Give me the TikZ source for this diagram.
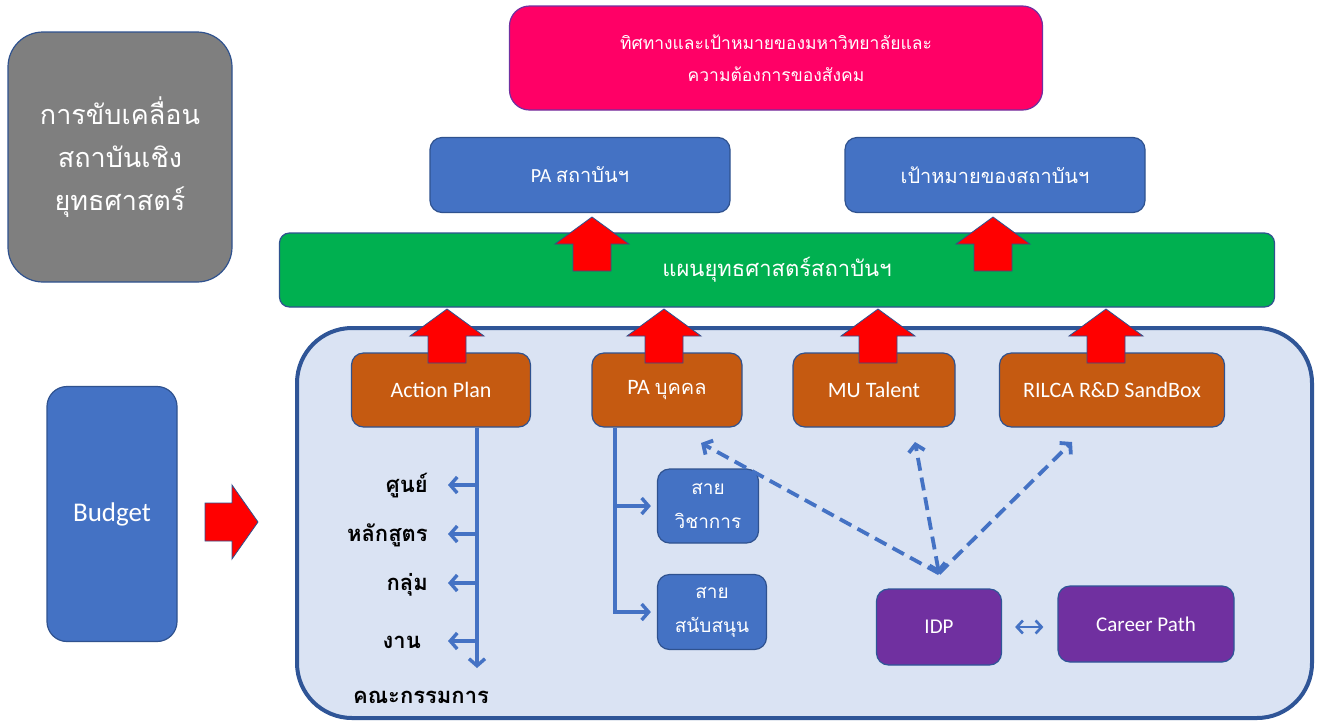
\documentclass[tikz,border=0pt]{standalone}
\usepackage{fontspec}
\setmainfont{Carlito}
\newfontfamily\thai[Script=Thai]{Loma}
\usetikzlibrary{arrows.meta,calc}

\definecolor{edgeblue}{HTML}{2F528F}
\definecolor{boxblue}{HTML}{4472C4}
\definecolor{hotpink}{HTML}{FF0066}
\definecolor{grassgreen}{HTML}{00B050}
\definecolor{rust}{HTML}{C55A11}
\definecolor{paleblue}{HTML}{DAE3F3}
\definecolor{plum}{HTML}{7030A0}
\definecolor{greybox}{HTML}{7F7F7F}
\definecolor{frameblue}{HTML}{2F5597}

\begin{document}
\begin{tikzpicture}[x=1pt,y=-1pt,
    card/.style={draw=edgeblue,line width=1.2pt,rounded corners=12pt,text=white,align=center,inner sep=1pt},
    lbl/.style={font=\thai\bfseries\fontsize{22}{26}\selectfont,inner xsep=20pt,inner ysep=0pt},
    link/.style={draw=boxblue,line width=3.4pt,-{Straight Barb[length=7pt,width=16pt]}},
    dlink/.style={link,line width=3.8pt,dash pattern=on 13pt off 7pt},
    push/.style={fill=red,draw=edgeblue,line width=0.8pt}]
    \useasboundingbox[fill=white] (0,0) rectangle (1317,721);

    % big frame
    \draw[fill=paleblue,draw=frameblue,line width=4pt,rounded corners=55pt] (297,328) rectangle (1312,718);

    % left column
    \node[card,fill=greybox,minimum width=224pt,minimum height=250pt,rounded corners=35pt,
        font=\thai\fontsize{27}{43}\selectfont] (drive) at (120,157) {การขับเคลื่อน\\สถาบันเชิง\\ยุทธศาสตร์};
    \node[card,fill=boxblue,minimum width=130pt,minimum height=255pt,rounded corners=20pt,
        font=\fontsize{27}{30}\selectfont] (budget) at (112,514) {Budget};

    % top rows
    \node[card,fill=hotpink,draw=plum,minimum width=533pt,minimum height=104pt,rounded corners=20pt,
        font=\thai\fontsize{17.5}{32}\selectfont] (uni) at (776,58) {ทิศทางและเป้าหมายของมหาวิทยาลัยและ\\ความต้องการของสังคม};
    \node[card,fill=boxblue,minimum width=300pt,minimum height=75pt,font=\fontsize{20}{24}\selectfont] (pa) at (580,175) {PA {\thai สถาบันฯ}};
    \node[card,fill=boxblue,minimum width=300pt,minimum height=75pt,font=\thai\fontsize{20}{24}\selectfont] (goal) at (995,175) {เป้าหมายของสถาบันฯ};
    \node[card,fill=grassgreen,minimum width=995pt,minimum height=74pt,rounded corners=10pt,
        font=\thai\fontsize{22}{26}\selectfont] (plan) at (777,270) {แผนยุทธศาสตร์สถาบันฯ};

    % boxes inside the frame
    \node[card,fill=rust,minimum width=179pt,minimum height=74pt,font=\fontsize{22}{26}\selectfont] (action) at (441,390) {Action Plan};
    \node[card,fill=rust,minimum width=150pt,minimum height=74pt,font=\fontsize{22}{26}\selectfont] (pab) at (667,390) {PA {\thai\fontsize{20}{24}\selectfont บุคคล}};
    \node[card,fill=rust,minimum width=162pt,minimum height=74pt,font=\fontsize{22}{26}\selectfont] (talent) at (874,390) {MU Talent};
    \node[card,fill=rust,minimum width=225pt,minimum height=74pt,font=\fontsize{22}{26}\selectfont] (rilca) at (1112,390) {RILCA R\&D SandBox};

    \node[card,fill=boxblue,minimum width=101pt,minimum height=74pt,font=\thai\fontsize{19}{34}\selectfont] (sai1) at (708,506) {สาย\\วิชาการ};
    \node[card,fill=boxblue,minimum width=109pt,minimum height=75pt,font=\thai\fontsize{19}{34}\selectfont] (sai2) at (712,612) {สาย\\สนับสนุน};
    \node[card,fill=plum,draw=frameblue,minimum width=125pt,minimum height=76pt,font=\fontsize{21}{24}\selectfont] (idp) at (939,627) {IDP};
    \node[card,fill=plum,draw=frameblue,minimum width=176pt,minimum height=76pt,font=\fontsize{21}{24}\selectfont] (career) at (1146,624) {Career Path};

    % red block arrows
    \foreach \x/\y in {592/217, 993/217, 447/309, 664/309, 878/309, 1106/309}
        \draw[push] (\x,\y) -- ++(37,27) -- ++(-18,0) -- ++(0,27) -- ++(-38,0) -- ++(0,-27) -- ++(-18,0) -- cycle;
    \draw[push] (258,522) -- ++(-26,-37) -- ++(0,18) -- ++(-27,0) -- ++(0,38) -- ++(27,0) -- ++(0,18) -- cycle;

    % action plan branches
    \coordinate (abot) at (477,668);
    \node[lbl,anchor=base east] (l1) at (448,492) {ศูนย์};
    \node[lbl,anchor=base east] (l2) at (448,541) {หลักสูตร};
    \node[lbl,anchor=base east] (l3) at (448,590) {กลุ่ม};
    \node[lbl,anchor=base east,inner xsep=27pt] (l4) at (448,648) {งาน};
    \node[lbl,anchor=base,inner xsep=0pt] (l5) at (421,703) {คณะกรรมการ};
    \draw[link] (action.south -| abot) -- (abot);
    \foreach \n in {l1,l2,l3,l4}
        \draw[link] ([yshift=7pt]\n.base east -| abot) -- ([yshift=7pt]\n.base east);

    % PA branches
    \coordinate (ptrunk) at (615,0);
    \draw[link,shorten >=6pt] (pab.south -| ptrunk) |- (sai2.west);
    \draw[link,shorten >=6pt] (ptrunk |- sai1.west) -- (sai1.west);

    % IDP links
    \coordinate (hub) at ([yshift=15pt]idp.north);
    \coordinate (d1) at (701,443);
    \coordinate (d2) at (915,442);
    \coordinate (d3) at (1072,442);
    \draw[dlink] (hub) -- (d1);
    \draw[dlink] (hub) -- (d3);
    \draw[dlink,{Straight Barb[length=7pt,width=16pt]}-{Straight Barb[length=7pt,width=16pt]}] (hub) -- (d2);
    \draw[draw=boxblue,line width=2.6pt,{Straight Barb[length=6pt,width=13pt]}-{Straight Barb[length=6pt,width=13pt]},
        shorten <=13pt,shorten >=14pt] (idp.east) -- (idp.east -| career.west);
\end{tikzpicture}
\end{document}
